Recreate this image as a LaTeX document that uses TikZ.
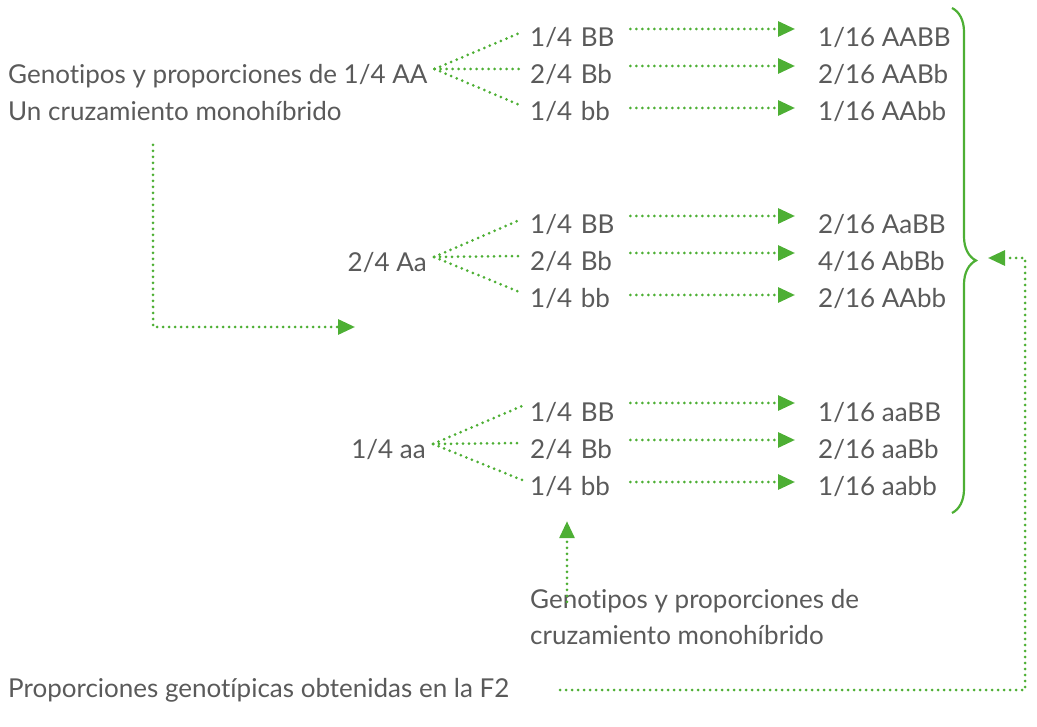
\documentclass[tikz,border=0pt]{standalone}
\usepackage{fontspec}
\setmainfont[Ligatures=NoCommon]{Lato}
\usetikzlibrary{arrows.meta,decorations.pathreplacing}
\definecolor{verde}{HTML}{4DAF34}
\definecolor{tinta}{HTML}{5A5A5A}

\begin{document}
\begin{tikzpicture}[
  x=1pt, y=-1pt,
  txt/.style={anchor=west, inner sep=0pt, text=tinta, font=\fontsize{26}{30}\selectfont, text height=18pt, text depth=4pt},
  col/.style={txt, text width=100pt},
  puntos/.style={draw=verde, line width=3pt, line cap=round, dash pattern=on 0pt off 6pt},
  flecha/.style={puntos, -{Triangle[length=17pt, width=15pt]}},
  llave/.style={draw=verde, line width=2.2pt, decorate, decoration={brace, amplitude=24pt}}
]
  % Caja del dibujo
  \useasboundingbox (0,0) rectangle (1037,727);

  % Progenitores
  \node[txt] (pAA) at (8,77) {Genotipos y proporciones de 1/4 AA};
  \node[txt] (pAAb) at (8,114) {Un cruzamiento monohíbrido};
  \node[txt, anchor=east] (pAa) at (427,265) {2/4 Aa};
  \node[txt, anchor=east] (paa) at (426,452) {1/4 aa};

  % Columna central
  \node[col] (m11) at (530,40)  {1/4 BB};
  \node[col] (m12) at (530,77)  {2/4 Bb};
  \node[col] (m13) at (530,114) {1/4 bb};
  \node[col] (m21) at (530,227) {1/4 BB};
  \node[col] (m22) at (530,264) {2/4 Bb};
  \node[col] (m23) at (530,301) {1/4 bb};
  \node[col] (m31) at (530,414) {1/4 BB};
  \node[col] (m32) at (530,451) {2/4 Bb};
  \node[col] (m33) at (530,488) {1/4 bb};

  % Columna derecha
  \node[txt] (r11) at (818,40)  {1/16 AABB};
  \node[txt] (r12) at (818,77)  {2/16 AABb};
  \node[txt] (r13) at (818,114) {1/16 AAbb};
  \node[txt] (r21) at (818,227) {2/16 AaBB};
  \node[txt] (r22) at (818,264) {4/16 AbBb};
  \node[txt] (r23) at (818,301) {2/16 AAbb};
  \node[txt] (r31) at (818,414) {1/16 aaBB};
  \node[txt] (r32) at (818,451) {2/16 aaBb};
  \node[txt] (r33) at (818,488) {1/16 aabb};

  % Ramas
  \foreach \p/\g in {pAA/1, pAa/2, paa/3}
    \foreach \f in {1,2,3}
      \draw[puntos] ([xshift=7pt, yshift=8pt]\p.east) -- ([xshift=-8pt, yshift=8pt]m\g\f.west);

  % Flechas hacia la F2
  \foreach \g in {1,2,3}
    \foreach \f/\d in {1/11, 2/11, 3/6}
      \draw[flecha] ([yshift=\d pt]m\g\f.east) -- ([xshift=-23pt, yshift=\d pt]r\g\f.west);

  % Llave de la F2
  \coordinate (lla) at (952,8);
  \coordinate (llb) at (952,513);
  \coordinate (punta) at (988,258);
  \draw[llave] (lla) -- (llb);

  % Notas
  \node[txt] (g1) at (530,601) {Genotipos y proporciones de};
  \node[txt] (g2) at (530,637) {cruzamiento monohíbrido};
  \node[txt] (f2) at (8,690) {Proporciones genotípicas obtenidas en la F2};

  \coordinate (ini) at (153,145);
  \coordinate (fin) at (355,327);
  \draw[flecha] (ini) |- (fin);
  \draw[flecha] ([xshift=37pt, yshift=-12pt]g1.north west) -- ([xshift=37pt, yshift=-22pt]m33.south west);
  \draw[flecha] (f2.east -| 560,0) -| ([xshift=37pt]punta) -- (punta);
\end{tikzpicture}
\end{document}
